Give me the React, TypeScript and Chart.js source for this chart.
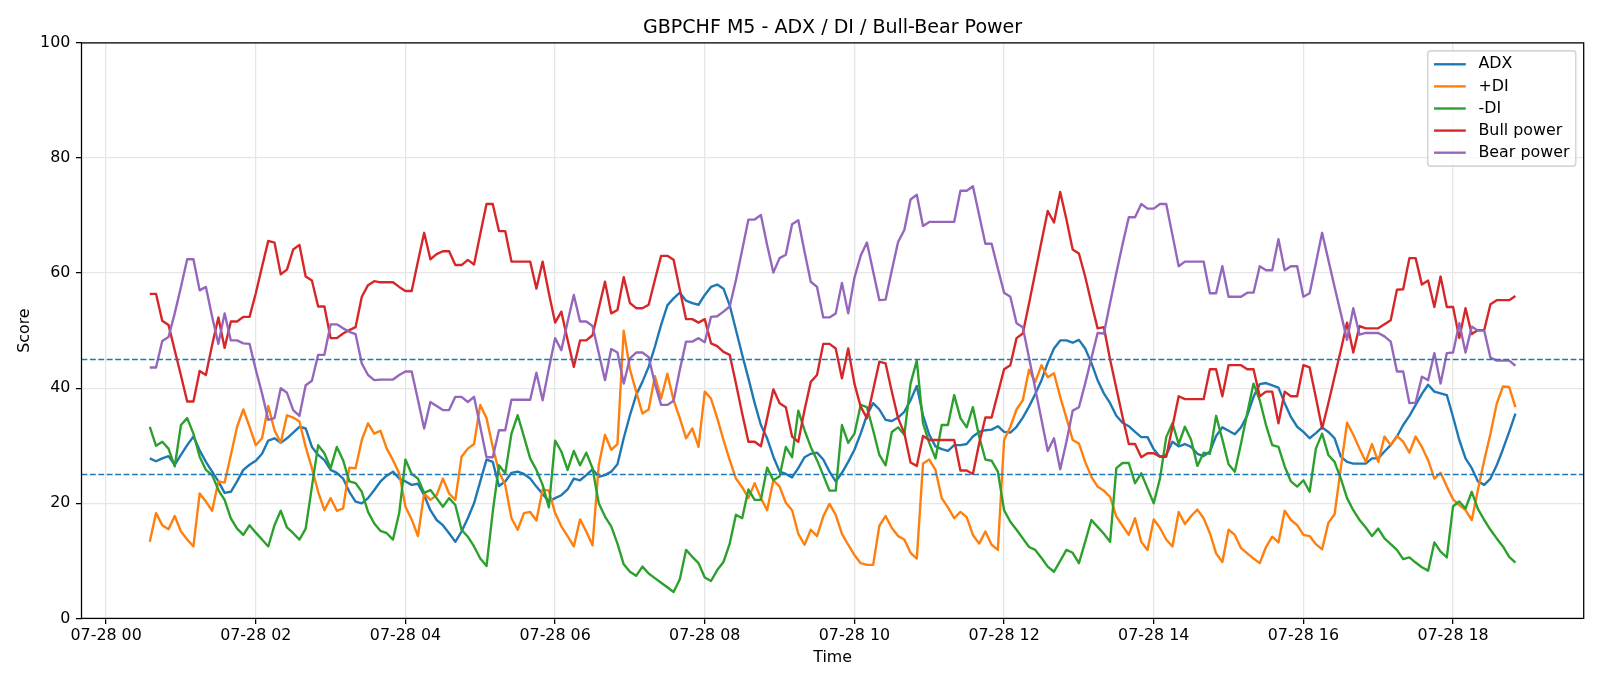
import React, { useEffect, useRef } from "react";
import { Chart, registerables } from "chart.js";
Chart.register(...registerables);

// ---- data ----
const startMinute = 35; // 07-28 00:35
const stepMinutes = 5; // M5 bars
const dateLabel = "07-28";
const chartTitle = "GBPCHF M5 - ADX / DI / Bull-Bear Power";

const adx = [
  27.8, 27.3, 27.8, 28.2, 26.7, 28.4, 30.1, 31.6, 29.2, 27.2,
  25.5, 23.8, 21.8, 22.0, 23.8, 25.8, 26.7, 27.4, 28.6, 30.9,
  31.3, 30.5, 31.3, 32.3, 33.3, 33.0, 29.8, 28.4, 27.5, 25.8,
  25.3, 24.3, 22.0, 20.3, 20.0, 20.9, 22.3, 23.8, 24.8, 25.5,
  24.3, 23.8, 23.2, 23.4, 21.4, 18.8, 17.1, 16.2, 14.8, 13.3,
  15.1, 17.4, 20.0, 23.8, 27.6, 27.2, 23.0, 23.8, 25.3, 25.5,
  25.1, 24.3, 22.9, 21.6, 20.3, 20.9, 21.4, 22.4, 24.3, 24.0,
  24.9, 25.9, 24.6, 24.9, 25.5, 26.8, 31.3, 35.3, 38.8, 41.1,
  43.7, 47.2, 51.0, 54.4, 55.6, 56.6, 55.2, 54.8, 54.5, 56.2,
  57.6, 58.0, 57.3, 54.4, 50.1, 45.8, 41.7, 37.4, 33.6, 31.3,
  28.1, 25.5, 25.1, 24.5, 26.1, 28.0, 28.6, 28.8, 27.6, 25.5,
  23.8, 25.3, 27.2, 29.3, 32.1, 35.3, 37.4, 36.3, 34.5, 34.3,
  34.9, 35.9, 37.9, 40.4, 35.3, 31.9, 29.9, 29.4, 29.1, 30.1,
  30.1, 30.3, 31.6, 32.4, 32.7, 32.8, 33.4, 32.4, 32.3, 33.3,
  34.9, 36.8, 39.0, 41.4, 44.4, 46.9, 48.3, 48.3, 47.9, 48.4,
  46.9, 44.4, 41.4, 39.1, 37.4, 35.2, 34.0, 33.4, 32.4, 31.5,
  31.5, 29.4, 28.1, 28.4, 30.7, 29.9, 30.3, 29.8, 28.6, 28.2,
  29.0, 31.7, 33.2, 32.6, 32.0, 33.2, 35.3, 38.5, 40.7, 40.9,
  40.5, 40.1, 37.4, 35.0, 33.3, 32.4, 31.3, 32.2, 33.2, 32.4,
  31.3, 28.1, 27.2, 26.9, 26.9, 26.9, 27.8, 27.8, 29.0, 30.1,
  31.6, 33.6, 35.2, 37.1, 39.0, 40.6, 39.4, 39.1, 38.8, 35.0,
  31.0, 27.8, 26.1, 23.8, 23.2, 24.3, 26.6, 29.4, 32.4, 35.6,
];

const plusDI = [
  13.3, 18.3, 16.2, 15.5, 17.8, 15.1, 13.7, 12.5, 21.7, 20.3,
  18.7, 23.8, 23.6, 28.4, 33.3, 36.3, 33.3, 30.1, 31.3, 36.9,
  32.7, 30.5, 35.3, 34.9, 34.2, 29.8, 26.1, 22.0, 18.8, 20.9,
  18.7, 19.1, 26.2, 26.1, 31.0, 33.9, 32.1, 32.6, 29.5, 27.5,
  25.2, 19.4, 17.2, 14.3, 21.7, 20.6, 21.4, 24.3, 21.7, 20.6,
  28.1, 29.5, 30.3, 37.1, 34.8, 29.8, 25.5, 23.2, 17.4, 15.4,
  18.3, 18.5, 17.0, 22.4, 22.2, 18.3, 16.0, 14.3, 12.5, 17.2,
  15.1, 12.7, 26.6, 31.9, 29.3, 30.3, 50.0, 43.3, 39.4, 35.6,
  36.3, 42.1, 38.2, 42.5, 37.9, 34.8, 31.3, 33.0, 29.8, 39.4,
  38.2, 34.8, 31.0, 27.5, 24.3, 22.8, 20.9, 23.5, 20.9, 18.8,
  24.0, 22.9, 20.1, 18.8, 14.7, 12.8, 15.4, 14.3, 17.7, 19.9,
  18.0, 14.7, 12.8, 11.0, 9.6, 9.3, 9.3, 16.1, 17.8, 15.7,
  14.3, 13.7, 11.4, 10.4, 26.9, 27.6, 25.8, 20.9, 19.3, 17.4,
  18.5, 17.6, 14.5, 13.0, 15.1, 12.8, 11.9, 31.0, 33.3, 36.3,
  37.9, 43.2, 41.1, 44.0, 41.9, 42.6, 38.5, 34.8, 31.0, 30.4,
  27.2, 24.6, 22.9, 22.2, 21.1, 17.7, 16.1, 14.5, 17.4, 13.3,
  11.9, 17.2, 15.7, 13.7, 12.5, 18.5, 16.4, 17.8, 18.9, 17.4,
  14.8, 11.3, 9.8, 15.4, 14.5, 12.2, 11.3, 10.4, 9.6, 12.4,
  14.2, 13.2, 18.7, 17.1, 16.2, 14.5, 14.3, 12.9, 12.0, 16.6,
  18.1, 26.1, 34.0, 31.9, 29.5, 27.2, 30.3, 27.2, 31.6, 30.1,
  31.7, 30.7, 28.8, 31.6, 29.8, 27.5, 24.3, 25.3, 22.9, 20.7,
  19.7, 18.8, 17.1, 22.4, 27.5, 32.1, 37.3, 40.3, 40.2, 36.7,
];

const minusDI = [
  33.3, 30.0, 30.7, 29.5, 26.4, 33.6, 34.8, 32.1, 28.1, 25.8,
  24.9, 22.3, 20.6, 17.4, 15.6, 14.5, 16.2, 14.9, 13.7, 12.5,
  16.2, 18.7, 15.8, 14.8, 13.7, 15.6, 22.9, 30.1, 28.7, 26.1,
  29.8, 27.5, 23.8, 23.5, 22.0, 18.5, 16.5, 15.2, 14.8, 13.7,
  18.3, 27.6, 25.1, 24.3, 21.8, 22.3, 20.9, 19.4, 20.9, 19.7,
  15.4, 14.2, 12.5, 10.4, 9.1, 18.5, 26.6, 25.2, 32.1, 35.3,
  31.6, 27.8, 25.8, 23.2, 19.3, 30.9, 29.0, 25.8, 29.1, 26.6,
  28.8, 26.1, 20.0, 17.7, 16.0, 13.0, 9.4, 8.1, 7.4, 9.0,
  7.8, 7.0, 6.2, 5.4, 4.6, 6.8, 11.9, 10.7, 9.6, 7.1,
  6.5, 8.4, 9.8, 13.0, 18.0, 17.4, 22.4, 20.6, 20.6, 26.2,
  24.0, 24.7, 29.8, 28.0, 36.1, 32.7, 29.8, 27.5, 24.9, 22.2,
  22.2, 33.6, 30.5, 32.1, 37.1, 36.7, 32.7, 28.4, 26.6, 32.4,
  33.2, 31.9, 40.8, 44.8, 33.9, 30.5, 27.8, 33.6, 33.6, 38.8,
  34.8, 33.2, 36.7, 31.6, 27.6, 27.4, 25.5, 18.8, 16.8, 15.4,
  13.9, 12.4, 11.9, 10.5, 9.0, 8.1, 10.0, 11.9, 11.4, 9.6,
  13.3, 17.1, 15.9, 14.7, 13.3, 26.1, 27.0, 27.0, 23.5, 25.2,
  22.6, 20.0, 24.3, 31.5, 33.9, 30.3, 33.3, 31.0, 26.5, 28.8,
  28.6, 35.2, 31.1, 26.8, 25.5, 30.4, 35.7, 40.8, 37.9, 33.6,
  30.1, 29.8, 26.4, 23.8, 22.9, 24.0, 22.0, 29.5, 32.1, 28.4,
  27.2, 24.3, 20.9, 18.8, 17.1, 15.8, 14.3, 15.6, 13.9, 12.9,
  11.9, 10.3, 10.6, 9.7, 8.9, 8.3, 13.2, 11.6, 10.6, 19.5,
  20.3, 19.1, 22.0, 19.0, 17.1, 15.4, 13.9, 12.5, 10.7, 9.7,
];

const bullPower = [
  56.4, 56.4, 51.7, 51.0, 46.6, 42.2, 37.7, 37.7, 43.0, 42.3,
  47.5, 52.3, 47.0, 51.6, 51.6, 52.4, 52.4, 56.5, 61.1, 65.6,
  65.3, 59.8, 60.6, 64.1, 64.9, 59.4, 58.7, 54.2, 54.2, 48.7,
  48.7, 49.5, 50.1, 50.6, 55.9, 57.9, 58.6, 58.4, 58.4, 58.4,
  57.6, 56.9, 56.9, 62.0, 67.0, 62.4, 63.3, 63.8, 63.8, 61.4,
  61.4, 62.3, 61.5, 66.8, 72.0, 72.0, 67.3, 67.3, 62.0, 62.0,
  62.0, 62.0, 57.3, 62.0, 56.5, 51.4, 53.3, 48.4, 43.7, 48.3,
  48.3, 49.2, 53.9, 58.5, 53.0, 53.6, 59.3, 54.8, 53.9, 53.9,
  54.5, 58.8, 63.0, 63.0, 62.3, 57.1, 52.0, 52.0, 51.4, 52.0,
  47.8, 47.3, 46.3, 45.8, 40.8, 35.6, 30.7, 30.7, 29.9, 34.8,
  39.8, 37.4, 36.7, 31.6, 30.7, 36.2, 41.1, 42.3, 47.7, 47.7,
  46.9, 41.7, 46.9, 40.8, 36.8, 34.8, 39.7, 44.6, 44.3, 39.4,
  34.8, 32.2, 27.1, 26.5, 31.7, 31.0, 31.0, 31.0, 31.0, 31.0,
  25.7, 25.7, 25.1, 30.4, 34.9, 34.9, 39.1, 43.3, 44.0, 48.7,
  49.5, 54.7, 60.1, 65.5, 70.8, 68.8, 74.1, 69.3, 64.1, 63.4,
  59.4, 54.8, 50.4, 50.6, 45.0, 40.0, 35.0, 30.3, 30.3, 28.0,
  28.7, 28.7, 28.1, 28.1, 33.3, 38.6, 38.1, 38.1, 38.1, 38.1,
  43.3, 43.3, 38.6, 44.0, 44.0, 44.0, 43.3, 43.3, 38.6, 39.4,
  39.4, 33.9, 39.4, 38.6, 38.6, 44.0, 43.6, 38.4, 33.0, 37.4,
  42.0, 46.6, 51.4, 46.2, 50.8, 50.4, 50.4, 50.4, 51.1, 51.8,
  57.1, 57.2, 62.6, 62.6, 58.0, 58.7, 54.1, 59.4, 54.1, 54.1,
  48.7, 53.9, 49.4, 50.1, 50.1, 54.6, 55.3, 55.3, 55.3, 56.0,
];

const bearPower = [
  43.6, 43.6, 48.2, 48.9, 53.0, 57.6, 62.4, 62.4, 57.0, 57.6,
  52.4, 47.7, 53.0, 48.3, 48.3, 47.8, 47.7, 43.2, 39.1, 34.5,
  34.8, 40.0, 39.2, 36.2, 35.2, 40.5, 41.3, 45.8, 45.8, 51.1,
  51.1, 50.4, 49.8, 49.4, 44.3, 42.3, 41.4, 41.5, 41.5, 41.5,
  42.3, 42.9, 42.9, 38.0, 33.0, 37.6, 36.9, 36.2, 36.2, 38.5,
  38.5, 37.6, 38.5, 33.3, 28.0, 28.0, 32.7, 32.7, 38.0, 38.0,
  38.0, 38.0, 42.7, 37.9, 43.4, 48.7, 46.6, 51.5, 56.2, 51.6,
  51.6, 50.8, 46.1, 41.4, 46.8, 46.2, 40.8, 45.2, 46.2, 46.2,
  45.4, 40.8, 37.1, 37.1, 37.8, 43.2, 48.1, 48.1, 48.7, 48.0,
  52.4, 52.5, 53.3, 54.2, 58.8, 64.0, 69.3, 69.3, 70.1, 64.9,
  60.1, 62.6, 63.2, 68.5, 69.2, 63.7, 58.5, 57.6, 52.3, 52.3,
  53.0, 58.3, 53.0, 59.2, 63.0, 65.3, 60.3, 55.3, 55.4, 60.5,
  65.4, 67.5, 72.8, 73.6, 68.2, 68.9, 68.9, 68.9, 68.9, 68.9,
  74.3, 74.3, 75.1, 70.1, 65.1, 65.1, 60.8, 56.6, 55.9, 51.3,
  50.6, 45.3, 39.9, 34.5, 29.1, 31.3, 25.9, 30.7, 36.1, 36.7,
  40.8, 45.2, 49.6, 49.5, 54.8, 60.0, 65.0, 69.7, 69.7, 72.0,
  71.2, 71.2, 72.0, 72.0, 66.6, 61.2, 62.0, 62.0, 62.0, 62.0,
  56.5, 56.5, 61.2, 55.9, 55.9, 55.9, 56.6, 56.6, 61.2, 60.5,
  60.5, 65.9, 60.5, 61.2, 61.2, 55.9, 56.5, 61.7, 67.0, 62.3,
  57.6, 53.0, 48.4, 53.9, 49.3, 49.6, 49.6, 49.6, 49.0, 48.1,
  42.9, 42.9, 37.4, 37.5, 42.0, 41.4, 46.1, 40.8, 46.1, 46.2,
  51.3, 46.2, 50.7, 50.0, 50.0, 45.3, 44.8, 44.8, 44.8, 43.9,
];

const thresholdLevels = [45, 25];
const seriesLabels = ["ADX", "+DI", "-DI", "Bull power", "Bear power"];
const seriesColors = ["#1f77b4", "#ff7f0e", "#2ca02c", "#d62728", "#9467bd"];
const yTicks = [0, 20, 40, 60, 80, 100];
const xTickHours = [0, 2, 4, 6, 8, 10, 12, 14, 16, 18];

const FONT = "'DejaVu Sans', 'Liberation Sans', sans-serif";
const PT = 1600 / 14 / 72; // px per point

function toPoints(values: number[]) {
  return values.map((v, i) => ({ x: startMinute + i * stepMinutes, y: v }));
}

const axesTitle = {
  id: "axesTitle",
  afterDraw(chart: any) {
    const { ctx, chartArea: a } = chart;
    ctx.save();
    ctx.font = `${12 * PT}px ${FONT}`;
    ctx.fillStyle = "#000";
    ctx.textAlign = "center";
    ctx.textBaseline = "alphabetic";
    ctx.fillText(chartTitle, (a.left + a.right) / 2, a.top - 6 * PT);
    ctx.restore();
  },
};

const frameEdges = {
  id: "frameEdges",
  afterDatasetsDraw(chart: any) {
    const { ctx, chartArea: a } = chart;
    ctx.save();
    ctx.strokeStyle = "#000";
    ctx.lineWidth = 0.8 * PT;
    ctx.strokeRect(a.left, a.top, a.right - a.left, a.bottom - a.top);
    ctx.restore();
  },
};

const mplLegend = {
  id: "mplLegend",
  afterDraw(chart: any) {
    const { ctx, chartArea: a } = chart;
    const fs = 10 * PT;
    ctx.save();
    ctx.font = `${fs}px ${FONT}`;
    let maxW = 0;
    seriesLabels.forEach((t) => (maxW = Math.max(maxW, ctx.measureText(t).width)));
    const pad = 0.4 * fs;
    const handle = 2.0 * fs;
    const textPad = 0.8 * fs;
    const rowPitch = 22.1;
    const rowH = 14.2;
    const w = pad + handle + textPad + maxW + pad;
    const h = pad * 2 + rowH * seriesLabels.length + (rowPitch - rowH) * (seriesLabels.length - 1);
    const right = a.right - 0.5 * fs;
    const top = a.top + 0.5 * fs;
    const left = right - w;
    const r = 0.2 * fs;
    ctx.beginPath();
    ctx.moveTo(left + r, top);
    ctx.lineTo(right - r, top);
    ctx.quadraticCurveTo(right, top, right, top + r);
    ctx.lineTo(right, top + h - r);
    ctx.quadraticCurveTo(right, top + h, right - r, top + h);
    ctx.lineTo(left + r, top + h);
    ctx.quadraticCurveTo(left, top + h, left, top + h - r);
    ctx.lineTo(left, top + r);
    ctx.quadraticCurveTo(left, top, left + r, top);
    ctx.closePath();
    ctx.fillStyle = "rgba(255,255,255,0.8)";
    ctx.fill();
    ctx.strokeStyle = "rgba(204,204,204,0.8)";
    ctx.lineWidth = 1.0 * PT;
    ctx.stroke();
    seriesLabels.forEach((t, k) => {
      const cy = top + pad + rowH / 2 + k * rowPitch;
      ctx.strokeStyle = seriesColors[k];
      ctx.lineWidth = 1.5 * PT;
      ctx.beginPath();
      ctx.moveTo(left + pad, cy);
      ctx.lineTo(left + pad + handle, cy);
      ctx.stroke();
      ctx.fillStyle = "#000";
      ctx.textBaseline = "middle";
      ctx.textAlign = "left";
      ctx.fillText(t, left + pad + handle + textPad, cy);
    });
    ctx.restore();
  },
};

export default function App() {
  const ref = useRef<HTMLCanvasElement | null>(null);
  useEffect(() => {
    if (!ref.current) return;
    const first = startMinute;
    const last = startMinute + (adx.length - 1) * stepMinutes;
    const margin = (last - first) * 0.05;
    const xMin = first - margin;
    const xMax = last + margin;
    const seriesValues = [adx, plusDI, minusDI, bullPower, bearPower];
    const datasets: any[] = seriesValues.map((vals, k) => ({
      label: seriesLabels[k],
      data: toPoints(vals),
      borderColor: seriesColors[k],
      backgroundColor: seriesColors[k],
      borderWidth: 1.5 * PT,
      pointRadius: 0,
      tension: 0,
      fill: false,
      borderJoinStyle: "round",
      order: 10 - k,
    }));
    thresholdLevels.forEach((lv) => {
      datasets.push({
        label: `level ${lv}`,
        data: [
          { x: xMin, y: lv },
          { x: xMax, y: lv },
        ],
        borderColor: "#1f77b4",
        borderWidth: 1.0 * PT,
        borderDash: [3.7 * PT, 1.6 * PT],
        pointRadius: 0,
        fill: false,
        order: 1,
      });
    });
    const chart = new Chart(ref.current, {
      type: "line",
      data: { datasets },
      options: {
        animation: false,
        responsive: false,
        devicePixelRatio: 1,
        parsing: false as any,
        normalized: true,
        layout: { padding: { left: 0, right: 1600 - 1583.7, top: 42.9, bottom: 0 } },
        plugins: {
          legend: { display: false },
          tooltip: { enabled: false },
          title: { display: false },
        },
        scales: {
          x: {
            type: "linear",
            min: xMin,
            max: xMax,
            afterFit: (s: any) => {
              s.height = 686 - 618.4;
            },
            afterBuildTicks: (s: any) => {
              s.ticks = xTickHours.map((h) => ({ value: h * 60 }));
            },
            grid: {
              color: "#e6e6e6",
              lineWidth: 0.8 * PT,
              drawTicks: true,
              tickLength: 3.5 * PT,
              tickColor: "#000",
              tickWidth: 0.8 * PT,
            },
            border: { display: false },
            ticks: {
              autoSkip: false,
              maxRotation: 0,
              includeBounds: false,
              padding: 2.5,
              color: "#000",
              font: { family: FONT, size: 10 * PT },
              callback: (v: any) => `${dateLabel} ${String(Math.round(Number(v) / 60)).padStart(2, "0")}`,
            },
            title: {
              display: true,
              text: "Time",
              color: "#000",
              font: { family: FONT, size: 10 * PT },
              padding: { top: 0, bottom: 18.5 },
            },
          },
          y: {
            type: "linear",
            min: 0,
            max: 100,
            afterFit: (s: any) => {
              s.width = 81.5;
            },
            afterBuildTicks: (s: any) => {
              s.ticks = yTicks.map((v) => ({ value: v }));
            },
            grid: {
              color: "#e6e6e6",
              lineWidth: 0.8 * PT,
              drawTicks: true,
              tickLength: 3.5 * PT,
              tickColor: "#000",
              tickWidth: 0.8 * PT,
            },
            border: { display: false },
            ticks: {
              padding: 3.5 * PT,
              color: "#000",
              font: { family: FONT, size: 10 * PT },
            },
            title: {
              display: true,
              text: "Score",
              color: "#000",
              font: { family: FONT, size: 10 * PT },
              padding: { top: 15.5, bottom: 0 },
            },
          },
        },
      },
      plugins: [frameEdges, axesTitle, mplLegend],
    });
    return () => chart.destroy();
  }, []);
  return (
    <div style={{ position: "absolute", left: 0, top: 0, width: 1600, height: 686, background: "#fff" }}>
      <canvas ref={ref} width={1600} height={686} style={{ display: "block", width: 1600, height: 686 }} />
    </div>
  );
}
